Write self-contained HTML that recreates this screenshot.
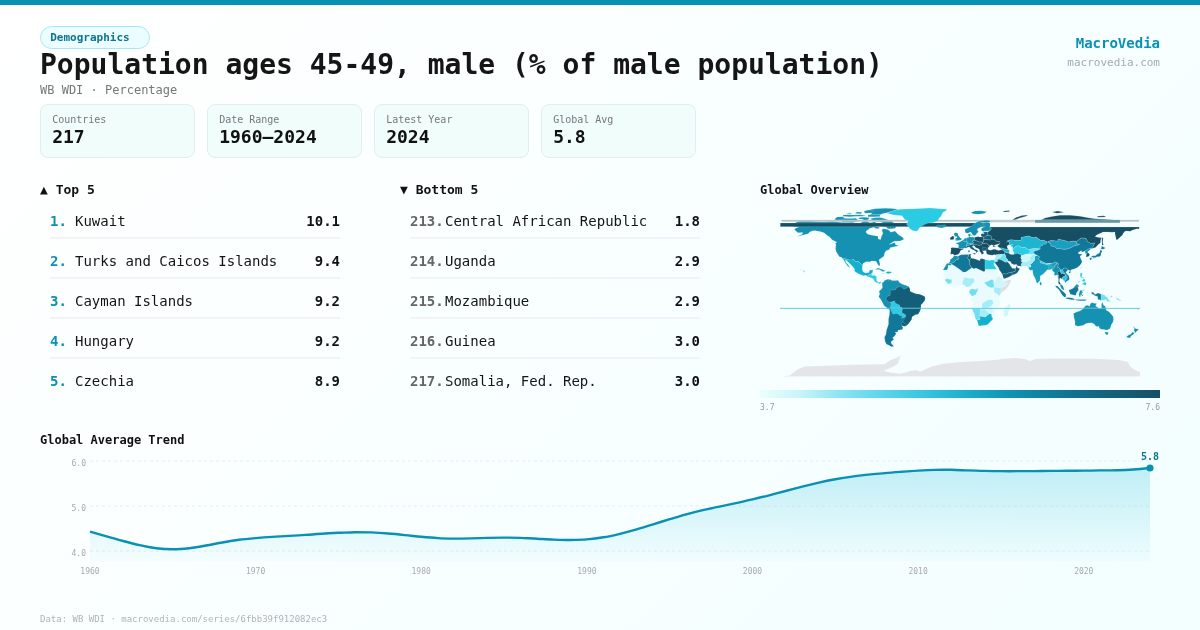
<!DOCTYPE html>
<html><head><meta charset="utf-8"><title>Population ages 45-49, male</title>
<style>
*{margin:0;padding:0;box-sizing:border-box}
html,body{width:1200px;height:630px;overflow:hidden}
body{position:relative;-webkit-font-smoothing:antialiased;font-family:"DejaVu Sans Mono","Liberation Mono",monospace;background:linear-gradient(135deg,#ffffff 0%,#f2feff 100%);color:#111}
.a{position:absolute;white-space:nowrap;line-height:1}
.topbar{position:absolute;left:0;top:0;width:1200px;height:5px;background:#0891b2}
.badge{position:absolute;left:40px;top:25.6px;width:110px;height:23px;border:1px solid #a5e9f5;background:#ecfdff;border-radius:12px;font-size:11px;font-weight:700;color:#0e7490;padding-left:9.2px;line-height:21.6px}
.title{left:40px;top:51px;font-size:28px;font-weight:700;color:#151515}
.sub{left:40px;top:84px;font-size:12px;color:#777}
.brand{right:40px;top:35.7px;font-size:14px;font-weight:700;color:#0891b2}
.site{right:40px;top:56.5px;font-size:11px;color:#aaa}
.card{position:absolute;top:104px;width:155px;height:54px;background:#f0fdfa;border:1px solid #e6ebed;border-radius:8px}
.card .l{position:absolute;left:11.2px;top:10.3px;font-size:10px;color:#777;line-height:1}
.card .v{position:absolute;left:11.2px;top:23px;font-size:18px;font-weight:700;color:#111;line-height:1}
.h{font-size:13px;font-weight:700;color:#111}
.h2{font-size:12px;font-weight:700;color:#111}
.row{position:absolute;width:290px;height:20px;font-size:14px;line-height:20px;white-space:nowrap}
.row .rk{position:absolute;left:0;top:0;font-weight:700}
.rk.t{color:#0891b2}.rk.b{color:#666}
.row .nm{position:absolute;top:0;color:#151515}
.row .vl{position:absolute;right:0;top:0;font-weight:700;color:#111}
.sep{position:absolute;width:290px;height:2px;background:#f1f3f4}
.ax{position:absolute;font-size:8px;color:#aaa;line-height:1;white-space:nowrap}
.foot{left:40px;top:615px;font-size:9px;color:#b3b3b3}
.gbar{position:absolute;left:760px;top:390px;width:400px;height:8px;background:linear-gradient(to right,#ecfeff 0%,#c8f4fa 10%,#8ce4f2 20%,#5fd6eb 30%,#3cc6e1 40%,#20b2d0 50%,#1498b9 60%,#0f82a0 70%,#126e8c 80%,#155e76 90%,#164e63 100%)}
#root{position:absolute;left:0;top:0;width:1200px;height:630px;will-change:transform}
</style></head><body><div id="root">
<div class="topbar"></div>
<div class="badge">Demographics</div>
<div class="a title">Population ages 45-49, male (% of male population)</div>
<div class="a sub">WB WDI · Percentage</div>
<div class="a brand">MacroVedia</div>
<div class="a site">macrovedia.com</div>
<div class="card" style="left:40px"><div class="l">Countries</div><div class="v">217</div></div>
<div class="card" style="left:207px"><div class="l">Date Range</div><div class="v">1960–2024</div></div>
<div class="card" style="left:374px"><div class="l">Latest Year</div><div class="v">2024</div></div>
<div class="card" style="left:541px"><div class="l">Global Avg</div><div class="v">5.8</div></div>
<div class="a h" style="left:40px;top:182.6px">▲ Top 5</div>
<div class="a h" style="left:400px;top:182.6px">▼ Bottom 5</div>
<div class="a h2" style="left:760px;top:183.8px">Global Overview</div>
<div class="row" style="left:50px;top:211px"><span class="rk t">1.</span><span class="nm" style="left:25px">Kuwait</span><span class="vl">10.1</span></div>
<div class="sep" style="left:50px;top:237.0px"></div>
<div class="row" style="left:50px;top:251px"><span class="rk t">2.</span><span class="nm" style="left:25px">Turks and Caicos Islands</span><span class="vl">9.4</span></div>
<div class="sep" style="left:50px;top:277.0px"></div>
<div class="row" style="left:50px;top:291px"><span class="rk t">3.</span><span class="nm" style="left:25px">Cayman Islands</span><span class="vl">9.2</span></div>
<div class="sep" style="left:50px;top:317.0px"></div>
<div class="row" style="left:50px;top:331px"><span class="rk t">4.</span><span class="nm" style="left:25px">Hungary</span><span class="vl">9.2</span></div>
<div class="sep" style="left:50px;top:357.0px"></div>
<div class="row" style="left:50px;top:371px"><span class="rk t">5.</span><span class="nm" style="left:25px">Czechia</span><span class="vl">8.9</span></div>
<div class="row" style="left:410px;top:211px"><span class="rk b">213.</span><span class="nm" style="left:35px">Central African Republic</span><span class="vl">1.8</span></div>
<div class="sep" style="left:410px;top:237.0px"></div>
<div class="row" style="left:410px;top:251px"><span class="rk b">214.</span><span class="nm" style="left:35px">Uganda</span><span class="vl">2.9</span></div>
<div class="sep" style="left:410px;top:277.0px"></div>
<div class="row" style="left:410px;top:291px"><span class="rk b">215.</span><span class="nm" style="left:35px">Mozambique</span><span class="vl">2.9</span></div>
<div class="sep" style="left:410px;top:317.0px"></div>
<div class="row" style="left:410px;top:331px"><span class="rk b">216.</span><span class="nm" style="left:35px">Guinea</span><span class="vl">3.0</span></div>
<div class="sep" style="left:410px;top:357.0px"></div>
<div class="row" style="left:410px;top:371px"><span class="rk b">217.</span><span class="nm" style="left:35px">Somalia, Fed. Rep.</span><span class="vl">3.0</span></div>
<svg style="position:absolute;left:760px;top:200px" width="400" height="185" viewBox="760 200 400 185"><g stroke="#ffffff" stroke-width="0.3" stroke-opacity="0.45">
<path fill="#1592b1" d="M792 225.8L795 223.3L797 221.8L804 220L810 220.9L819 221.7L825 221.8L832 221.3L840 222.3L850 223.3L860 223.3L865 220.3L870 222.8L875 221.8L878 224.8L874 227.3L870 228.3L866 231.3L866 232.6L868 234.3L872 235.3L878 236.3L878 238.8L880.5 239.8L881.5 236.3L883 233.3L882 230.8L882.5 228.8L888 229.5L891 232.3L895 231L898.5 234.8L902.5 237.3L904 239.3L900 241.1L894 241.3L889 244.5L895 242.5L895.5 244.8L899 245.8L894 246.8L890 247.8L889.5 249.5L886 250.8L884.5 253.3L884 256.3L882 257.5L879 259.8L880 264.3L879.5 266.1L878 264.8L877.3 263.3L876 261.3L873.5 260.9L870.5 261.1L870.5 262.3L869 261.8L866 261.7L863 263.5L862.5 265.4L860.5 263.8L859 261.8L857.5 261.5L855.5 261.8L853.5 259.5L851.8 260L849 260L845.2 258.8L842.9 258.8L841.5 257.3L839.4 256.7L837.5 253.8L836 251.3L835.5 248.3L836 245L835.3 242.9L837 242.3L835 241.3L832 239.8L829.5 236.8L827 235.3L824 232.8L820 231.5L814 230.5L810 231.8L808 233.8L804 234.8L800 235.8L797 236.5L802 234.3L803 232.6L798 232.8L795.5 230.8L794.5 229.3L796 228.1L799 226.9L794 226.7Z"/>
<path fill="#14b1cf" d="M862.5 265.4L862.2 269.3L863 271.8L865.5 273.1L869 272.6L869.5 270.3L873 269.8L872.5 272.8L871.7 273.5L868.5 275.3L867.7 276.8L866 275.3L863.5 275.7L859 274L854.5 271.3L854.5 268.8L852 265.8L847.7 261.6L845.2 259.5L846 262.7L848 264.3L850 268.3L848 266.5L845.5 263.3L842.9 258.8L845.2 258.8L849 260L851.8 260L853.5 259.5L855.5 261.8L857.5 261.5L859 261.8L860.5 263.8Z"/>
<path fill="#2ccbe4" d="M867.7 276.8L870 277.6L872.5 278.3L874 279.8L874.3 281.3L876 282.3L877.5 283.1L880 284L881 282.3L882.7 282.7L882.1 284.1L882.5 282.5L880.5 281.7L878.5 282.5L876.5 280.4L876.5 276.8L875 275.3L871.7 275.6L871.7 273.5L868.5 275.3Z"/>
<path fill="#1592b1" d="M875 269.5L878 268.1L883 269.8L885.8 271.1L882.5 271.4L879.5 269.5L876 269.4Z"/>
<path fill="#14b1cf" d="M885.5 272.9L887.5 271.4L891 271.8L891.7 272.8L888.5 273.7Z"/>
<path fill="#14b1cf" d="M881.7 272.9L883.7 273.1L883.2 273.5Z"/>
<path fill="#14b1cf" d="M799.8 269.1L800.7 269.1L800.6 269.5Z"/>
<path fill="#14b1cf" d="M801.7 269.7L802.4 270L803.8 270.4L804.1 271.1L805 272.1L804.1 272.3L803.9 271.5L803.3 270.5L802.7 270.2Z"/>
<path fill="#1592b1" d="M880 217.6L884 218.5L889 220.3L892 221.3L894 223.3L898 224.8L895 228.3L892 228.8L888 228.8L886 226.8L882 226.3L887 224.3L884 223.3L880 221.8L874 221.3L870 218.8L875 217.8Z"/>
<path fill="#1592b1" d="M842 218.3L850 218.5L856 218.3L859 221.3L852 222.8L842 222.3L841 220.3Z"/>
<path fill="#1592b1" d="M834.5 219.3L837 217L843 216.8L844.5 218.3L841 220.1L836 220.3Z"/>
<path fill="#1592b1" d="M858 218.8L863 219.3L864 220.8L868 219.8L869.5 217.8L865 217.3L860 217.5Z"/>
<path fill="#1592b1" d="M868 216.7L875 216.8L880 216.6L880 215L875 214.9L868 214.8Z"/>
<path fill="#1592b1" d="M870 214.7L880 214.7L883 213.5L887 212.7L892 211.3L898 209.3L892 208.5L885 208.3L875 208.8L870 209.8L868 211.3L872 213.3Z"/>
<path fill="#1592b1" d="M843 216.3L850 216.8L856 216.3L863 216.3L866 215.7L860 214.8L854 215.1L848 214.7L843 215Z"/>
<path fill="#1592b1" d="M865 213.3L872 212.8L874 210.8L868 210.1L864 211.3Z"/>
<path fill="#1592b1" d="M855 213.6L861 213.8L862 212.3L857 212Z"/>
<path fill="#1592b1" d="M846 213.8L852 213.7L850 212.8Z"/>
<path fill="#1592b1" d="M878 228.8L880 227.8L877 226.8L874 227L875 228.3Z"/>
<path fill="#164e63" d="M1040 220.5L1045 218L1052 216.5L1060 215.3L1070 215.3L1080 216.3L1088 217.8L1095 218.8L1105 219.3L1120 220.5Z"/>
<path fill="#164e63" d="M1052 212L1058 211L1064 212.3L1057 213.2Z"/>
<path fill="#1592b1" d="M971 212.5L975 211L981 210.8L987 211.8L984 213.5L978 214.3L973 213.8Z"/>
<path fill="#164e63" d="M1011 220.8L1016 217.5L1022 215.5L1028 215L1026 216.2L1019 218.2L1013 221Z"/>
<path fill="#164e63" d="M1004 211L1010 210.5L1009 211.8L1003 212Z"/>
<path fill="#164e63" d="M1097 216.3L1104 215.8L1106 217L1098 217.3Z"/>
<rect x="781.5" y="219.9" width="357.5" height="1.8" fill="#b2c2c9"/>
<rect x="990" y="219.9" width="45" height="2.5" fill="#c3cdd2"/>
<rect x="1035" y="219.9" width="85" height="3" fill="#6896a5"/>
<rect x="780.3" y="223" width="209.7" height="3.7" fill="#164e63"/>
<path fill="#2ccbe4" d="M887 213.3L893 210.8L900 209.3L915 208.7L930 208L940 208.7L947 209.3L946 210.8L943 212.3L942 214.3L941 216.3L939 218.3L938 220.8L933 222.8L928 223.1L922 225.7L920 227.3L917 231.3L912.5 230.5L910 228.8L908 226.3L906.5 224.3L908.5 220.8L905 219.8L902 215.8L894 215.1Z"/>
<path fill="#1592b1" d="M936 225.8L938 224.9L941.5 225.1L945 224.8L946.5 226.1L945.5 226.9L941.3 227.9L939 227.5L937.3 227.3Z"/>
<path fill="#12789a" d="M882.7 282.7L884 281.8L884.5 280.8L886 280.1L887.8 279.4L888.7 278.9L888.5 280.5L890 279.5L892 280.7L896 280.7L898 280.6L899.5 282.8L902 284.3L905 285.3L908 286.3L909 287.3L910 289.5L910 291.3L912 292.3L915.5 293.8L919 294.2L921.5 295.1L924.8 296.8L925.2 298.8L924.5 300.8L922.5 303.3L921 304.8L920.8 308.8L919.5 311.8L918 314.3L915.5 314.6L912 316.8L911.4 319.8L909.5 322.3L907.5 324.8L906 326.1L904 326.2L901.7 325.5L903 327.8L902.3 329.5L898 330.3L897.7 332.1L895 332.3L896.2 333.8L894.5 336.3L892.5 337.8L894 339.3L891 341.8L891.5 343.8L894 346.3L891.5 346.8L889 345.3L886.5 344.3L885 341.3L884.5 337.3L886 334.3L886.5 330.3L888.5 324.3L888.5 319.3L889.5 314.3L889.7 309.8L887.5 308.3L884 305.3L882 301.3L880.5 298.8L878.8 296.8L879.7 294.7L880 293.3L879.2 292.3L880 290.3L881.2 289.7L882.7 287.5L882.5 284.8L882.1 284.1Z"/>
<path fill="#1592b1" d="M882.7 282.7L884 281.8L884.5 280.8L886 280.1L887.8 279.4L888.7 278.9L888.5 280.5L890 279.5L892 280.7L896 280.7L898 280.6L899.5 282.8L902 284.3L905 285.3L908 286.3L908.5 287L904 289.3L900 286.3L899 287.1L896.6 287.4L895.9 289.4L893 290.1L890.6 290.2L890 290.7L890.5 292.5L890 295.6L887.1 296.5L886 298.8L886.8 300.7L887.5 300.8L889.4 302.3L890.4 302.3L891.3 304L890.6 306.8L891.2 307.6L890.5 308.8L889.7 309.8L887.5 308.3L884 305.3L882 301.3L880.5 298.8L878.8 296.8L879.7 294.7L880 293.3L879.2 292.3L880 290.3L881.2 289.7L882.7 287.5L882.5 284.8L882.1 284.1Z"/>
<path fill="#135f7a" d="M900 286.1L904 289.3L908.5 287L909 287.3L910 289.5L910 291.3L912 292.3L915.5 293.8L919 294.2L921.5 295.1L924.8 296.8L925.2 298.8L924.5 300.8L922.5 303.3L921 304.8L920.8 308.8L919.5 311.8L918 314.3L915.5 314.6L912 316.8L911.4 319.8L909.5 322.3L907.5 324.8L906.6 325L902.4 321.5L904.2 319.3L905.4 316.9L905.7 315.3L904.4 313.9L902.1 313.3L901.8 311.3L902.5 309.3L901.7 307.6L900 307.6L899.5 305.1L898.5 304.8L895 303.1L894.6 301L890.4 302.3L889.4 302.3L887.5 300.8L886.8 300.7L886 298.8L887.1 296.5L890 295.6L890.5 292.5L890 290.7L890.6 290.2L893 290.1L895.9 289.4L896.6 287.4L899 287.1Z"/>
<path fill="#2ccbe4" d="M890.4 302.3L894.6 301L895 303.1L898.5 304.8L899.5 305.1L900 307.6L901.7 307.6L902.5 309.3L901.8 311.3L897.7 313.5L895.5 313.7L892.8 314.1L891.5 311.3L891 309.8L890.5 308.8L891.2 307.6L890.6 306.8L891.3 304Z"/>
<path fill="#2ccbe4" d="M897.7 313.5L901.8 311.3L902.1 313.3L904.4 313.9L905.7 315.3L905.4 316.9L901.4 318.5L902.4 316.6L899 315.1Z"/>
<path fill="#135f7a" d="M906.6 325L902.4 321.5L901.7 324.3L901.7 325.5L904 326.2L906 326.1Z"/>
<path fill="#164e63" d="M950.5 254.3L951.1 249.3L950.7 248.2L952 247.6L958.2 247.9L960.7 248.5L963.2 248.9L963.1 249.5L960.8 250.3L960 251.8L959.5 253L958 254.6L954.6 255.3L953.7 254.5L952.6 254.1L951.1 254.3Z"/>
<path fill="#1592b1" d="M958.2 247.9L958.8 245.1L957.8 244.2L955.3 242.9L958.4 242.6L960 241.8L961.6 241.1L962.5 240.2L964.2 241.4L965.9 241.9L968.2 242.3L967.6 243.7L966 245L967 245.4L966.7 246.4L967.5 247.5L966.2 248.2L964.5 247.9L963.1 248.8L960.7 248.5Z"/>
<path fill="#1592b1" d="M954.3 241.3L957 240.7L961.4 240.1L961.7 238.6L960.2 237.9L959.5 236.8L958.4 235.7L957.9 234.3L958.2 233.7L956.5 232.7L955 232.7L953.8 233.8L954.4 235.3L955.1 236.5L956.9 236.4L957 237.9L955.4 238L955.8 239.1L954.8 239.6L956.8 239.9Z"/>
<path fill="#164e63" d="M954 239.2L953.8 237.4L954.4 236.7L952.7 236L951.5 236.8L950 237.9L950.1 239.5L952 239.7Z"/>
<path fill="#1592b1" d="M966.1 240.5L966 239.4L967 237.8L968.6 237.4L969 236.5L971 237.3L972.5 236.9L974.2 237.4L974.6 238.7L975 240.2L972.1 241L973.8 242.5L973 243.8L970.5 243.8L967.6 243.7L968.2 242.3L966.4 241.8Z"/>
<path fill="#1592b1" d="M962.5 240.2L963.4 239.8L964 239.4L964.8 238.3L967 237.8L966 239.4L966.1 240.5L966.4 241.8L965.9 241.9L964.2 241.4Z"/>
<path fill="#164e63" d="M974.2 237.4L978 236.5L979.6 236.9L983.5 237.1L983.9 238.6L983.5 239.8L984 240.9L982.7 242.2L979 241.9L975 240.2L974.6 238.7Z"/>
<path fill="#135f7a" d="M972.1 241L975 240.2L979 241.9L982.7 242.2L982.5 243.1L982.9 243.4L981 245.1L978.8 245.4L976.5 244.8L973.7 244.8L972.2 244.2L970.5 243.8L973 243.8L973.8 242.5Z"/>
<path fill="#1592b1" d="M966 245L967.6 243.7L970.5 243.8L970.4 244.8L969 245.5L967 245.4Z"/>
<path fill="#135f7a" d="M967 245.4L969 245.5L970.4 244.8L972.2 244.2L973.7 244.8L973.7 245.7L972.3 246L972.6 247.3L973.6 247.8L974.7 249.3L976.2 249.5L978.5 251.2L977 252.1L976.6 252.5L975.7 253.3L976.1 251.8L975.6 251.2L974 250.3L972.3 249.6L970.5 248.4L970 247.3L968.4 247.1L967.5 247.5L966.7 246.4Z"/>
<path fill="#135f7a" d="M972.4 253.3L975.6 253L975.1 254.6Z"/>
<path fill="#12789a" d="M968.2 252.3L969.8 252.1L969.6 250.2L968.2 250.4Z"/>
<path fill="#164e63" d="M973.7 245.7L973.7 244.8L976.5 244.8L978.8 245.4L981 245.1L982.9 243.4L984.9 243.6L986.6 243.1L988.2 244.8L988.7 246L989.7 246.3L988.6 247.3L988 248L988 249.4L986.4 251L986 250.5L984 250.5L982.6 251L984 253.1L982.8 253.9L981.7 254.5L981.1 253L980.2 251.7L979.4 251L979.5 249.4L978.5 248.8L976 247.8L975.2 247L974.5 246.1Z"/>
<path fill="#135f7a" d="M982.6 251L984 250.5L986 250.5L986.4 251L986.3 249.6L988 249.4L988 248L985 247.6L982.5 247.1L982.4 249Z"/>
<path fill="#164e63" d="M982.7 242.2L984 240.9L983.5 239.8L985 239.4L990.5 239.9L992 239L994.4 239.6L995.5 240.9L998.2 241.4L1000 241.7L1000 243.3L998.5 244.1L995 245L993.5 246L996.5 246L993.6 246.9L992.5 245.9L993.5 245.3L991.5 244.7L990 245.5L988.7 246L988.2 244.8L986.6 243.1L984.9 243.6L982.9 243.4Z"/>
<path fill="#135f7a" d="M983.5 239.8L983.9 238.6L983.5 237.1L985.5 237L986.6 235.6L988.2 235.2L990.9 235.7L991.8 238.2L992 239L990.5 239.9L985 239.4Z"/>
<path fill="#135f7a" d="M981 236L981 234.5L981.6 233.9L982.6 233.6L984.3 234L983.5 232.8L983.4 232.1L988 231.8L987.7 233.5L988.2 235.2L986.6 235.6L985.5 237L983.5 237.1L982.7 236.9Z"/>
<path fill="#1592b1" d="M965.5 232.8L967.5 233.3L970.5 232L971.8 233.3L972.7 235.1L974.3 235.8L976 235.1L976.6 233.5L978.5 232L978 230.9L977.3 230.3L977.5 228.8L979.5 227.8L981.5 226.8L982 225.7L984.2 225.5L983.7 223.4L980.6 222.2L985 222.7L988.9 222.2L990.9 221.7L989 220.4L986 220.3L983 220.7L979 221.3L976.5 222.3L974.5 223.3L972.5 225.3L970.5 226.8L968 228.1L965 229.3L965 230.8Z"/>
<path fill="#1592b1" d="M981.3 230.3L982.9 231.4L986 230.9L990 230.8L991.5 228.4L989.6 227.1L990 225.6L989 224.4L990 223.6L988.5 222.4L988.9 222.2L985 222.7L983.7 223.4L984.2 225.5L985.3 226.2L981.5 228.3Z"/>
<path fill="#1592b1" d="M968.6 236.4L968.1 234.8L968.4 234.2L970.6 233.6L970.3 234.8L970.9 234.9L969.9 236.3L969.4 236.5Z"/>
<path fill="#12789a" d="M971 236L972.6 235.7L972.3 235.3L971.5 235.4Z"/>
<path fill="#164e63" d="M989.8 227L1139.2 227L1139.2 229L1137 228.8L1132 230.3L1130.5 231.3L1126 230.9L1124.7 231.5L1123.3 233.3L1122.5 235.1L1120 237.3L1118.5 238.8L1116.5 240.3L1115.5 236.3L1115 233.8L1115 232L1112 232.3L1108 231.9L1103 232L1100.5 233.3L1097 234.8L1095 236.5L1097.5 237.3L1101.5 237.8L1100.7 239.8L1100.5 242.8L1098 244.8L1095.5 247.4L1092.8 248.3L1091 248.7L1093.2 246.2L1094.8 242.9L1091 243.6L1087.5 241.5L1086 238.5L1082 237.9L1080 238.7L1076.7 241.5L1074 241L1068.5 242L1066 241L1062 240L1058 239.3L1057.8 241.3L1052 240.5L1050 240.8L1047.3 242.1L1044 240.4L1040.5 240.3L1038 238.5L1036 237L1033.5 237.8L1031 237.1L1029 235.9L1025 236.7L1021.5 237.3L1021 240.5L1015 240.3L1011 239.7L1007.3 240.9L1010 242.8L1009 244.8L1008.7 245L1007.5 245.6L1007 246.8L1007.5 248.3L1008.5 249.5L1006.5 249.4L1004 248.7L1002 248.1L1000 247.9L998.5 247L997.5 246L998 245.3L999.5 244.3L998.5 244.1L1000 243.3L1000 241.7L998.2 241.4L995.5 240.9L994.4 239.6L992 239L991.8 238.2L990.9 235.7L988.2 235.2L987.7 233.5L988 231.8L990 230.8L991.5 228.4L989.6 227.1Z"/>
<path fill="#164e63" d="M1102 237L1103.2 238.6L1102.7 242.3L1103.5 244.8L1102 245.3L1101.9 242.5L1101.8 239.3Z"/>
<path fill="#1fb5d1" d="M1006.5 242.8L1007.3 240.9L1011 239.7L1015 240.3L1021 240.5L1021.5 237.3L1025 236.7L1029 235.9L1031 237.1L1033.5 237.8L1036 237L1038 238.5L1040.5 240.3L1044 240.4L1047.3 242.1L1045.5 244.3L1043 244.1L1042.3 245.8L1040 246.3L1040.2 249.1L1035 248.5L1031 249L1029 249.9L1026 248.3L1025.5 247.3L1022 247.8L1018.5 245.8L1016 246.3L1013 249.3L1012.5 249.5L1012.7 246.8L1011.2 246.6L1010.3 245.8L1013 244.5L1009.2 244.9L1008.7 245L1009 244.8L1010 242.8L1007.3 240.9Z"/>
<path fill="#2ccbe4" d="M1013 249.3L1016 246.3L1018.5 245.8L1022 247.8L1025.5 247.3L1026 248.3L1029 249.9L1031 249L1035 248.5L1040.2 249.1L1038 250.3L1035 250.9L1033.5 251.9L1035 253.9L1031.5 254.4L1028 254.3L1026.5 253.9L1022 255.8L1021.2 254.7L1017 253.3L1014 254L1013.5 251.8L1012.8 250.8Z"/>
<path fill="#6fdff2" d="M1029 249.9L1031 249L1035 248.5L1040.2 249.1L1038 250.3L1035 250.9L1033.5 251.9L1035 253.9L1031.5 254.4L1028 254.3L1029.5 251.8L1031 250.8Z"/>
<path fill="#1a9fc0" d="M1047.8 242.1L1050 240.8L1052 240.5L1057.8 241.3L1058 239.3L1062 240L1066 241L1068.5 242L1074 241L1076.7 241.5L1076 243.5L1079.8 244.3L1078 245.1L1074 245.9L1071.5 247.6L1067.5 248.9L1064 249.4L1060 248.7L1056.3 248.6L1055.3 247L1051 246.1L1050.6 243.7Z"/>
<path fill="#12789a" d="M1033.5 251.9L1035 250.9L1038 250.3L1040.2 249.1L1040 246.3L1042.3 245.8L1043 244.1L1045.5 244.3L1047.3 242.1L1047.8 242.1L1050.6 243.7L1051 246.1L1055.3 247L1056.3 248.6L1060 248.7L1064 249.4L1067.5 248.9L1071.5 247.6L1074 245.9L1078 245.1L1079.8 244.3L1076 243.5L1076.7 241.5L1080 238.7L1082 237.9L1086 238.5L1087.5 241.5L1091 243.6L1094.8 242.9L1093.2 246.2L1091 248.7L1090 248.4L1088 249.3L1084.5 251.3L1081.6 252.3L1081.5 250.4L1079 252.1L1078 252.8L1079 254.1L1082.5 254.3L1080 256.3L1081 259.3L1082 261.3L1081.5 263.3L1079.5 265.8L1077 267.8L1074 269L1071 269.8L1070.5 271L1068 269.8L1066.7 268.5L1065.5 268.1L1063 268.7L1061.7 270.1L1060.2 269.8L1058.7 267.3L1057.5 267.3L1058.5 263.7L1057 263L1056 261.8L1052 263.5L1049 263.3L1046 263.4L1043 262L1041 261.1L1039 259.8L1038.5 258.7L1039.5 256.8L1037.8 255.8L1035.5 254.5L1034.5 254.1Z"/>
<path fill="#12789a" d="M1068.6 272.1L1070 271.2L1071 271.7L1070.2 273.1L1069 272.9Z"/>
<path fill="#1592b1" d="M1084.5 251.3L1088 249.3L1090 248.4L1090.7 249L1089.7 250.3L1087.5 251.8L1088.3 252.7L1086.5 253.6L1085 253.5L1085.3 251.8Z"/>
<path fill="#164e63" d="M1086.1 256.9L1086.5 253.6L1088.3 252.7L1089.4 254.3L1089.3 256L1087.5 256.7Z"/>
<path fill="#12789a" d="M1090.9 257L1092.5 255.8L1095.5 255.7L1097 254.3L1099.5 253.1L1100 251.3L1100.5 249.9L1101.5 250L1102 251.8L1101 253.3L1100.8 255.6L1099.8 256.4L1098.5 256.7L1097 256.7L1095.2 257.8L1093 257.1Z"/>
<path fill="#12789a" d="M1089.6 258.1L1091 257.4L1091.9 258.3L1091 260L1090.2 260.1Z"/>
<path fill="#12789a" d="M1092.5 257.4L1094.7 257.1L1094.3 258L1092.9 258.5Z"/>
<path fill="#12789a" d="M1100 249.8L1101.3 248.1L1101.7 245.9L1105.5 248L1103.3 249.3L1101.3 248.9Z"/>
<path fill="#d9dde1" d="M1080.1 268.3L1081.5 266L1081.9 266.8L1080.8 269.3Z"/>
<path fill="#1a9fc0" d="M1037.8 255.8L1039.5 256.8L1038.5 258.7L1039 259.8L1041 261.1L1040 262.6L1044 263.8L1048 264.8L1048.2 263.4L1049 264.5L1052 263.5L1056 261.8L1057 263L1056.5 264.3L1055 265.3L1054.5 267.3L1053.3 268.3L1052.5 269.5L1051.8 268.9L1050 269.5L1048.5 269.7L1047 269.8L1046 271.3L1044.5 272.8L1042.3 274.7L1040.3 275.8L1040.2 278.3L1039.8 281L1038.2 282.4L1037.5 283.3L1036.5 282.4L1035.7 279.8L1034.6 277.3L1033.4 275.3L1032.8 272.3L1032.6 269.9L1030.5 270.5L1029 268.9L1028.2 267.7L1029.6 267L1031 266.9L1030.4 264.6L1029.5 264.3L1031.9 263.3L1033.5 261.3L1034.5 260.3L1034.8 258.8L1034.3 256.8L1035.8 255.7Z"/>
<path fill="#1592b1" d="M1039.8 283.3L1040.2 281.5L1041.8 283.8L1041.3 285.1L1040.1 285.2Z"/>
<path fill="#14b1cf" d="M1048.2 264.8L1049 264.5L1052.4 266.3L1052.5 269.5L1051.8 268.9L1050 269.5L1048.8 269.4L1048.5 267.3Z"/>
<path fill="#2ccbe4" d="M1040 262.6L1044 263.8L1048.2 264.8L1048.2 263.4L1046 263.4L1043 262L1041 261.1Z"/>
<path fill="#a5eef8" d="M1021.5 266.2L1026.7 265.9L1027.5 267.4L1028.2 267.7L1029.6 267L1031 266.9L1030.4 264.6L1029.5 264.3L1031.9 263.3L1033.5 261.3L1034.5 260.3L1034.8 258.8L1034.3 256.8L1035.8 255.7L1034.5 254.2L1031.5 254.8L1031 256.6L1029.3 257.3L1030 259.8L1026.5 261.4L1022.5 261.9L1021 264.3Z"/>
<path fill="#cff6fb" d="M1021.2 255.7L1022 255.8L1026.5 253.9L1028 254.3L1031.5 254.4L1034.5 254.2L1031.5 254.8L1031 256.6L1029.3 257.3L1030 259.8L1026.5 261.4L1022.5 261.9L1020.9 261.5L1021.7 259.9L1020.6 257.8L1021 256.8Z"/>
<path fill="#135f7a" d="M1004 251.9L1008 252.8L1009 253.3L1009.5 253.8L1011 254.5L1014 254.4L1014 254L1017 253.3L1021.2 254.7L1021 256.8L1020.6 257.8L1021.7 259.9L1020.9 261.5L1022.5 261.9L1021 264.3L1021.5 266.2L1017.3 265.7L1016.5 264.2L1014 264.7L1011.5 263.5L1010.2 261.3L1008.6 261.3L1008 260.8L1007.6 259.8L1005.9 257.8L1005.4 255.5L1004.8 254.1L1004.3 253.3Z"/>
<path fill="#6fdff2" d="M998.8 257.9L1001 256.9L1002.3 254.1L1004.8 254.1L1005.4 255.5L1005.9 257.8L1007.6 259.8L1008 260.8L1007.7 261.9L1006.5 262.2L1004.7 262.1L1002 260.2L999 259.3Z"/>
<path fill="#a5eef8" d="M995.7 254.7L996.5 254.5L1002.3 254.1L1001 256.9L998.8 257.9L999 259.3L997 259.8L998 261.3L995 261.8L994.2 260.1L995.1 258.3L995.9 256.3Z"/>
<path fill="#135f7a" d="M994.9 261.8L996.5 261.8L998 261.3L997 259.8L999 259.3L1002 260.2L1004.7 262.1L1006.5 262.2L1007.7 261.9L1008.4 262.8L1009.6 264.3L1010.2 265.3L1011 266.8L1011.6 267L1012 268.3L1015.5 268.6L1015.2 271.3L1012 272.3L1009 272.7L1006.5 274L1003.3 273.8L1002.7 274.9L1001.2 272.6L999.2 269.8L998.5 267.5L996.7 265.3L995.2 263.3Z"/>
<path fill="#135f7a" d="M1015.5 268.6L1016.3 266.4L1016.4 264.9L1017.2 267.4L1019.8 268.8L1018.5 270.9L1017.8 272.3L1016.3 273.4L1015.2 274L1012 275.3L1012 272.3L1015.2 271.3Z"/>
<path fill="#135f7a" d="M1012 272.3L1012 275.3L1009 277.1L1005 278.5L1003.5 278.6L1002.7 275.6L1002.7 274.9L1003.3 273.8L1006.5 274L1009 272.7Z"/>
<path fill="#164e63" d="M986 250.7L986.5 249.6L988 249.3L989 250.1L991 250.2L993.5 249.3L995.2 249.3L998.3 250.4L1001.5 249.8L1003.5 250.2L1004.8 251.6L1004.3 253.3L1004.8 254.1L1002.3 254.1L996.5 254.5L995.7 254.7L996.1 255.5L994.5 254.5L992.5 255.2L990.5 254.9L989 254.7L987.3 254.3L986.3 253.1L986.5 251.8Z"/>
<path fill="#14b1cf" d="M1000 247.9L1002 248.1L1004 248.7L1006.5 249.4L1008.5 249.5L1009.5 251L1008.9 252.9L1008 252.8L1004.8 251.6L1003.5 250.2L1001.5 249.8Z"/>
<path fill="#1592b1" d="M1052.2 270.1L1053.3 268.3L1054.5 267.3L1055.1 265.3L1056.5 264.3L1057.5 263L1058.5 263.7L1057.5 267.3L1058.7 267.3L1060.2 269.8L1061.1 269.6L1060 270.9L1058.2 271.6L1057.5 272.8L1058.5 275L1059 277.8L1058.5 280.8L1057.8 277.3L1057.6 274.8L1055.3 275.5L1054.2 275.3L1054.5 272.3L1053.5 271.8L1052.3 270.6Z"/>
<path fill="#164e63" d="M1057.5 272.8L1058.2 271.6L1060 270.9L1060.5 271.8L1061.3 273.5L1062.5 273.3L1064.7 273.8L1065.5 275.8L1062.8 277.1L1062.5 279.1L1061 278.6L1060 277.8L1059.3 280.3L1059.5 281.8L1060.3 283.3L1061 284.5L1060.1 284.8L1058.3 283.3L1058.5 280.8L1059 277.8L1058.5 275Z"/>
<path fill="#2ccbe4" d="M1061.7 270.1L1063 268.7L1065.5 268.1L1066.7 268.5L1068 269.8L1066.5 271.3L1065.7 272.5L1067 274.3L1068.8 276.1L1069.3 278.8L1069 280L1066.8 280.9L1065 282.7L1064.8 281L1063 280.3L1062.5 279.1L1062.8 277.1L1065.5 275.8L1064.7 273.8L1062.5 273.3L1061.3 273.5L1060.5 271.8L1060 270.9L1061.1 269.6Z"/>
<path fill="#12789a" d="M1063 268.7L1065.5 268.1L1066.7 268.5L1068 269.8L1066.5 271.3L1065.7 272.5L1067 274.3L1068.8 276.1L1069.3 278.8L1069 280L1066.8 280.9L1065 282.7L1064.8 281L1066.5 279.8L1067.5 277.3L1066.5 275.3L1064.5 272.8L1063.5 271.3L1062.5 269.8Z"/>
<path fill="#1592b1" d="M1060.1 284.8L1061 284.5L1062.2 285.1L1063.4 287L1064.3 289.9L1063.5 290L1061.3 288.4L1060.4 286.4Z"/>
<path fill="#12789a" d="M1055.3 285.7L1057.5 286.1L1060.5 289.2L1064 292.3L1066 294.4L1065.8 297.1L1064.5 297.2L1062.3 295.3L1060.6 292.5L1058.8 289.5L1056 287.3Z"/>
<path fill="#12789a" d="M1065.2 298.1L1068 297.5L1071 297.7L1072.6 298.2L1074.4 299.1L1074.5 300L1070 299.4L1066.5 298.7Z"/>
<path fill="#12789a" d="M1075 299.5L1079 299.5L1082 299.6L1085 299.6L1087 299.7L1085 300.8L1080 300.8L1076 300.3Z"/>
<path fill="#12789a" d="M1069 289.8L1070.5 289.6L1073 288.2L1075.5 285.8L1076.8 284.3L1079 286L1078 286.9L1078.5 290.3L1077.5 291.2L1076.5 292.8L1076 295.3L1074.5 295.2L1071.7 294.4L1070.2 294.2L1069.6 292.3L1068.9 291Z"/>
<path fill="#1592b1" d="M1073 288.2L1075.5 285.8L1076.8 284.3L1079 286L1078 286.9L1077.5 287.1L1075.5 286.8L1074.5 287Z"/>
<path fill="#1592b1" d="M1078.8 294.2L1079.4 296.8L1080.4 296.8L1080.8 294.3L1082.3 296L1083.2 295.9L1081.5 292.9L1083.3 292.3L1081 290.6L1084.3 290.3L1084.9 289.8L1080.8 290L1079.8 291.1L1079.5 292.2Z"/>
<path fill="#12789a" d="M1091 292.8L1093 292L1095 294.6L1098 293L1101 293.9L1101 300.4L1099.5 299.4L1098 299.7L1097.6 296.5L1095 295.7L1093.7 294.8L1092 294.1L1091.2 292.9Z"/>
<path fill="#6fdff2" d="M1101 293.9L1104.5 295.1L1105.8 296.8L1107.6 297.4L1108 299.3L1110.8 301.6L1107.5 301.6L1106 299.4L1103.3 300.3L1101 300.4Z"/>
<path fill="#6fdff2" d="M1110 296.8L1112 295.5L1112.5 296.8L1111 297.5Z"/>
<path fill="#2ccbe4" d="M1080.6 272.8L1082.3 272.9L1082 275.3L1081.7 277.1L1084 277.8L1083.3 278.5L1080.6 277.3L1080 275.3Z"/>
<path fill="#2ccbe4" d="M1082 284.3L1083.5 282.8L1085 281.7L1086.5 283.8L1085.5 285.5L1084 284.8Z"/>
<path fill="#2ccbe4" d="M1082 280.3L1084 278.8L1085.5 280.3L1084 281.8L1082.5 281.5Z"/>
<path fill="#2ccbe4" d="M1078 282.3L1079.5 280.8L1079.8 281.3L1078.5 282.8Z"/>
<path fill="#1592b1" d="M1073.5 313.3L1074 317.8L1075 321.3L1075 325.3L1078 326.3L1083.5 325.2L1086 323.6L1089 323L1091.5 322.8L1094.2 324L1095.6 326.1L1097.7 326.8L1098.5 325.8L1099.6 328.3L1101 329.3L1104.5 329.6L1106.3 330.3L1110 328.8L1111.3 324.8L1113.1 321.8L1113.5 319.3L1113 316.3L1110.8 313.8L1109 311.8L1106.3 310.3L1105.3 306.3L1103.5 305.3L1102.5 302L1101.5 304.3L1101.5 307.8L1100 309L1097.5 307.3L1095.5 306.1L1096.7 303.5L1094 303.2L1092 302.5L1090.5 303.8L1089.5 306.2L1087.5 305.3L1085.5 305.8L1083.5 308.3L1082 309.8L1079 311.3L1076.5 312L1074.5 313.1Z"/>
<path fill="#1592b1" d="M1104.6 332L1108.3 332.2L1108 334.5L1106.8 334.9L1105.2 333.5Z"/>
<path fill="#1592b1" d="M1132.7 325.7L1134.5 327.6L1135.9 328.8L1138.5 329L1137.9 330.5L1136.9 330.9L1135.3 332.9L1134.6 332.6L1134.6 331.2L1133.8 330.5L1134.6 328.5Z"/>
<path fill="#1592b1" d="M1132.6 331.8L1134.3 333L1133.3 334.5L1132.7 335.1L1131.2 335.8L1130.5 337.2L1129.3 337.9L1126.5 337.3L1126.7 336.4L1128.3 335.3L1130.5 334.3L1132 332.8Z"/>
<path fill="#2ccbe4" d="M1137 308.8L1138.5 308.6L1138.6 309.5L1137.3 309.5Z"/>
<path fill="#6fdff2" d="M1125 312.3L1127 313.6L1126.5 313.6L1124.2 311.6Z"/>
<path fill="#6fdff2" d="M1115.5 297.8L1117 299.3L1120 300.8L1121.5 301.3L1120 299.8L1117.5 298.3Z"/>
<path fill="#e9fbfd" d="M954.1 255.5L958 256.2L961 254.8L965 254.5L970.3 254.1L971 254.5L970.5 255.8L971.2 258.1L975.3 259L979.9 260.8L980.1 259.2L981.5 258.5L985 259.4L989 260.4L992.3 260.1L994.2 260.1L994.9 261.8L994.5 263.3L993.5 263.8L995.5 267.5L997.2 270.3L998.5 273.3L999.5 275.8L1002.5 278.8L1003.3 279.5L1004.5 280.9L1011.2 279.5L1011 280.8L1010 283.3L1008 286.8L1006 289.3L1002 292.3L1000 294.3L999.2 296.3L999.3 299.3L1000.5 301.8L1000.5 306.3L997 308.8L995 311.3L995.5 314.8L992.8 317.3L992.5 319.8L991 321.1L988 324.3L985.5 325.3L982 325.5L980 326.1L978.4 325.3L978 323.3L977 320.3L975.2 318.3L974.5 314.3L973.4 312.1L971.8 308.6L971.8 307.1L972.5 304.8L973.7 302L973 299.8L972.2 297.3L972 296.3L969.3 292.8L969.5 290.3L969.8 288.2L968.8 286.8L965.9 287L964.5 285L962 285L959 286.2L956 286.1L952.5 286.9L950.5 285.8L948.5 284.4L946.8 282.4L945 280.4L943.3 278.8L942.5 276.6L943.5 275.3L943.7 271.8L943 270L945 266.8L946.5 264L950 261.9L950.2 259.8L953.2 257.3Z"/>
<path fill="#1592b1" d="M954.1 255.5L958 256.2L958.3 258.3L958.8 259.2L956.4 259.7L954.5 261.8L951.3 263.3L951.3 263.6L946.8 263.6L948.5 263L950.2 261.4L950.2 259.8L953.2 257.3Z"/>
<path fill="#1592b1" d="M951.3 263.6L951.3 265.3L948 265.3L948 267.8L947 270L943 270L945 266.8L946.8 263.6Z"/>
<path fill="#12789a" d="M958 256.2L961 254.8L965 254.5L968.6 254.4L968.3 256.7L967.5 257.5L969.5 261.3L969.8 264.8L971.9 267.8L965.8 271.9L964.2 272.1L963.2 272.3L961.2 270.6L955.2 266.3L951.3 264L951.3 263.3L954.5 261.8L956.4 259.7L958.8 259.2L958.3 258.3Z"/>
<path fill="#135f7a" d="M968.6 254.4L970.3 254.1L971 254.5L970.5 255.8L971.2 258.1L970 259.3L969.5 261.3L967.5 257.5L968.3 256.7Z"/>
<path fill="#135f7a" d="M971.2 258.1L975.3 259L979.9 260.8L980.1 259.2L981.5 258.5L985 259.4L985 269.3L985 271.3L984 271.3L984 271.8L975.9 267.9L974.1 268.8L971.9 267.8L969.8 264.8L969.5 261.3L970 259.3Z"/>
<path fill="#2ccbe4" d="M985 259.4L989 260.4L992.3 260.1L994.2 260.1L994.9 261.8L994.5 263.3L993.5 263.8L995.5 267.5L996.9 269.3L985 269.3Z"/>
<path fill="#14b1cf" d="M976.5 319.9L977 320.3L978 323.3L978.4 325.3L980 326.1L982 325.5L985.5 325.3L988 324.3L991 321.1L992.5 319.8L992.9 318.1L991.9 317.2L991.3 313.7L989.4 313.4L987.5 315.1L985.7 316.8L983 316.6L980 316.1L980 319.7Z"/>
<path fill="#6fdff2" d="M971.8 308.6L973.4 312.1L974.5 314.3L975.2 318.3L976.5 319.9L980 319.7L980 316.1L980 313.3L981 309.3L983.5 309.2L985.3 308.9L983.5 308.8L980.8 309.3L978.5 308.7L974 308.7Z"/>
<path fill="#a5eef8" d="M980 313.3L980 316.1L983 316.6L985.7 316.8L987.5 315.1L989.4 313.4L987.5 311.8L985.3 309.1L983.5 309.2L981 309.3Z"/>
<path fill="#cff6fb" d="M985.3 309.1L987.5 311.8L989.4 313.4L991.3 313.7L992.9 311.3L992.8 307.8L990.5 306.9L988.5 307.8L986 309.1Z"/>
<path fill="#a5eef8" d="M962.7 285L962.7 281.8L963.6 279.6L964 277.8L966 277.6L969 278.5L972.5 278.1L974 278.8L974.5 281.3L972 284.3L969.8 286.5L968.5 286.8L965.9 287L964.5 285Z"/>
<path fill="#6fdff2" d="M945 280.4L946.3 281.8L948.5 284.4L949.7 283L952 283.5L951.4 281.8L951.8 279.8L949.3 279.3L946.3 278.6Z"/>
<path fill="#6fdff2" d="M969.3 292.8L969.5 290.3L971.3 289.1L973.2 289.1L976 289.5L978 287.8L977.5 291.3L976.5 292.8L975.5 294.8L972 296.3Z"/>
<path fill="#6fdff2" d="M984.2 282.6L987.5 286.3L991 287.7L993.5 287.5L995.3 285.9L993.2 282.9L993.9 281.3L992 279.3L987 281.7Z"/>
<path fill="#a5eef8" d="M994 286.7L996 286.9L998.5 287.7L1001 287.3L1001 293L999.5 296L997.5 294.3L994 292.3Z"/>
<path fill="#e2dfe4" d="M1001 287.3L1002 287.3L1003.5 286.6L1005 286.3L1006.8 284.5L1007.9 283.3L1004 282.3L1003.3 280.3L1004.5 280.9L1011.2 279.5L1011 280.8L1010 283.3L1008 286.8L1006 289.3L1002 292.3L1001 293Z"/>
<path fill="#a5eef8" d="M982 304.3L984 302.3L988 299.8L990.8 299.6L993 300.8L993.3 303.8L990.5 306.5L988.5 307.8L986 309.1L983.3 308.8L982 307.3Z"/>
<path fill="#cff6fb" d="M1009.3 303.3L1010.5 306.8L1009.5 308.3L1007.5 315.8L1005 316.8L1003.6 314.8L1004 311.3L1004.5 307.5L1007 306.6Z"/>
<path fill="#cff6fb" d="M993.5 287.5L995.3 285.9L994 286.7L994 283.3L996 278.8L998 276.8L1000 276.8L1002.5 278.8L1003.3 279.5L1002 280.3L1003.3 280.3L1004 282.3L1007.9 283.3L1006.8 284.5L1005 286.3L1003.5 286.6L1002 287.3L1001 287.3L998.5 287.7L996 286.9Z"/>
<path fill="#e3e5e8" d="M780 376.5L790 375.5L797 369.5L805 366.5L830 365.5L860 364.5L880 364.3L885 364L888 361.5L892 359.5L896 358L899 356.5L902 355L900 357.5L899 360.5L898 363.5L894 366.5L888 369L884 371L890 372.5L900 373.5L905 372.5L910 371L916 370L920 371.5L924 370L928 368L933 366L940 364.5L945 363.5L960 362L980 361L995 360L1005 358.5L1015 358L1025 359L1030 361L1035 359L1050 358.5L1080 358.5L1100 359L1120 360L1128 362L1130 366L1133 369L1140 372L1140 376.5Z"/>
<rect x="780" y="307.9" width="360" height="0.8" fill="#2bb6d3"/>
</g></svg>
<div class="gbar"></div>
<div class="ax" style="left:760px;top:403.5px;font-size:8px;color:#999">3.7</div>
<div class="ax" style="right:40px;top:403.5px;font-size:8px;color:#999">7.6</div>
<div class="a h2" style="left:40px;top:434.4px">Global Average Trend</div>
<svg style="position:absolute;left:0;top:0" width="1200" height="630" viewBox="0 0 1200 630">
<defs><linearGradient id="ag" x1="0" y1="0" x2="0" y2="1"><stop offset="0" stop-color="#06b6d4" stop-opacity="0.22"/><stop offset="1" stop-color="#06b6d4" stop-opacity="0.02"/></linearGradient></defs>
<line x1="90" y1="461" x2="1150" y2="461" stroke="#e9ecee" stroke-width="1" stroke-dasharray="3 3"/>
<line x1="90" y1="506" x2="1150" y2="506" stroke="#e9ecee" stroke-width="1" stroke-dasharray="3 3"/>
<line x1="90" y1="551" x2="1150" y2="551" stroke="#e9ecee" stroke-width="1" stroke-dasharray="3 3"/>
<path d="M90 531.6C92.8 532.4 101.1 534.7 106.6 536.3C112.1 537.8 117.6 539.5 123.1 541.0C128.6 542.5 134.2 544.0 139.7 545.2C145.2 546.5 150.7 547.6 156.2 548.2C161.7 548.9 167.3 549.3 172.8 549.3C178.3 549.3 183.9 548.8 189.4 548.2C194.9 547.5 200.4 546.5 205.9 545.5C211.4 544.6 217.0 543.4 222.5 542.5C228.0 541.5 233.6 540.6 239.1 539.8C244.6 539.1 250.1 538.6 255.6 538.1C261.1 537.6 266.7 537.2 272.2 536.9C277.7 536.5 283.3 536.3 288.8 535.9C294.3 535.6 299.8 535.3 305.3 534.9C310.8 534.6 316.4 534.2 321.9 533.8C327.4 533.4 332.9 533.1 338.4 532.8C343.9 532.6 349.5 532.3 355.0 532.2C360.5 532.2 366.1 532.2 371.6 532.4C377.1 532.6 382.6 533.0 388.1 533.5C393.6 533.9 399.2 534.5 404.7 535.1C410.2 535.6 415.7 536.3 421.2 536.8C426.7 537.3 432.3 537.8 437.8 538.1C443.3 538.4 448.9 538.5 454.4 538.6C459.9 538.6 465.4 538.5 470.9 538.4C476.4 538.2 482.0 538.0 487.5 537.9C493.0 537.7 498.6 537.6 504.1 537.6C509.6 537.6 515.1 537.7 520.6 537.9C526.1 538.1 531.7 538.5 537.2 538.7C542.7 539.0 548.3 539.4 553.8 539.6C559.3 539.8 564.8 540.0 570.3 540.0C575.8 539.9 581.4 539.8 586.9 539.4C592.4 539.0 597.9 538.3 603.4 537.3C608.9 536.4 614.5 535.1 620.0 533.8C625.5 532.4 631.1 530.9 636.6 529.3C642.1 527.7 647.6 526.0 653.1 524.3C658.6 522.6 664.2 520.9 669.7 519.2C675.2 517.6 680.7 515.9 686.2 514.4C691.7 512.9 697.3 511.5 702.8 510.2C708.3 508.9 713.9 507.7 719.4 506.6C724.9 505.4 730.4 504.3 735.9 503.1C741.4 501.9 747.0 500.7 752.5 499.4C758.0 498.1 763.6 496.7 769.1 495.3C774.6 493.9 780.1 492.4 785.6 491.0C791.1 489.5 796.7 488.0 802.2 486.6C807.7 485.3 813.3 483.9 818.8 482.6C824.3 481.4 829.8 480.3 835.3 479.3C840.8 478.3 846.4 477.4 851.9 476.6C857.4 475.9 862.9 475.2 868.4 474.6C873.9 474.0 879.5 473.6 885.0 473.1C890.5 472.6 896.1 472.2 901.6 471.8C907.1 471.4 912.6 470.9 918.1 470.6C923.6 470.3 929.2 470.0 934.7 469.9C940.2 469.7 945.7 469.8 951.2 469.8C956.7 469.9 962.3 470.2 967.8 470.4C973.3 470.5 978.9 470.8 984.4 470.9C989.9 471.0 995.4 471.1 1000.9 471.1C1006.4 471.2 1012.0 471.2 1017.5 471.1C1023.0 471.1 1028.6 471.1 1034.1 471.1C1039.6 471.0 1045.1 471.0 1050.6 470.9C1056.1 470.9 1061.7 470.8 1067.2 470.8C1072.7 470.7 1078.3 470.7 1083.8 470.6C1089.3 470.6 1094.8 470.5 1100.3 470.4C1105.8 470.4 1111.4 470.4 1116.9 470.2C1122.4 470.1 1127.9 469.9 1133.4 469.5C1138.9 469.2 1147.2 468.3 1150.0 468.0L1150 561.5L90 561.5Z" fill="url(#ag)"/>
<path d="M90 531.6C92.8 532.4 101.1 534.7 106.6 536.3C112.1 537.8 117.6 539.5 123.1 541.0C128.6 542.5 134.2 544.0 139.7 545.2C145.2 546.5 150.7 547.6 156.2 548.2C161.7 548.9 167.3 549.3 172.8 549.3C178.3 549.3 183.9 548.8 189.4 548.2C194.9 547.5 200.4 546.5 205.9 545.5C211.4 544.6 217.0 543.4 222.5 542.5C228.0 541.5 233.6 540.6 239.1 539.8C244.6 539.1 250.1 538.6 255.6 538.1C261.1 537.6 266.7 537.2 272.2 536.9C277.7 536.5 283.3 536.3 288.8 535.9C294.3 535.6 299.8 535.3 305.3 534.9C310.8 534.6 316.4 534.2 321.9 533.8C327.4 533.4 332.9 533.1 338.4 532.8C343.9 532.6 349.5 532.3 355.0 532.2C360.5 532.2 366.1 532.2 371.6 532.4C377.1 532.6 382.6 533.0 388.1 533.5C393.6 533.9 399.2 534.5 404.7 535.1C410.2 535.6 415.7 536.3 421.2 536.8C426.7 537.3 432.3 537.8 437.8 538.1C443.3 538.4 448.9 538.5 454.4 538.6C459.9 538.6 465.4 538.5 470.9 538.4C476.4 538.2 482.0 538.0 487.5 537.9C493.0 537.7 498.6 537.6 504.1 537.6C509.6 537.6 515.1 537.7 520.6 537.9C526.1 538.1 531.7 538.5 537.2 538.7C542.7 539.0 548.3 539.4 553.8 539.6C559.3 539.8 564.8 540.0 570.3 540.0C575.8 539.9 581.4 539.8 586.9 539.4C592.4 539.0 597.9 538.3 603.4 537.3C608.9 536.4 614.5 535.1 620.0 533.8C625.5 532.4 631.1 530.9 636.6 529.3C642.1 527.7 647.6 526.0 653.1 524.3C658.6 522.6 664.2 520.9 669.7 519.2C675.2 517.6 680.7 515.9 686.2 514.4C691.7 512.9 697.3 511.5 702.8 510.2C708.3 508.9 713.9 507.7 719.4 506.6C724.9 505.4 730.4 504.3 735.9 503.1C741.4 501.9 747.0 500.7 752.5 499.4C758.0 498.1 763.6 496.7 769.1 495.3C774.6 493.9 780.1 492.4 785.6 491.0C791.1 489.5 796.7 488.0 802.2 486.6C807.7 485.3 813.3 483.9 818.8 482.6C824.3 481.4 829.8 480.3 835.3 479.3C840.8 478.3 846.4 477.4 851.9 476.6C857.4 475.9 862.9 475.2 868.4 474.6C873.9 474.0 879.5 473.6 885.0 473.1C890.5 472.6 896.1 472.2 901.6 471.8C907.1 471.4 912.6 470.9 918.1 470.6C923.6 470.3 929.2 470.0 934.7 469.9C940.2 469.7 945.7 469.8 951.2 469.8C956.7 469.9 962.3 470.2 967.8 470.4C973.3 470.5 978.9 470.8 984.4 470.9C989.9 471.0 995.4 471.1 1000.9 471.1C1006.4 471.2 1012.0 471.2 1017.5 471.1C1023.0 471.1 1028.6 471.1 1034.1 471.1C1039.6 471.0 1045.1 471.0 1050.6 470.9C1056.1 470.9 1061.7 470.8 1067.2 470.8C1072.7 470.7 1078.3 470.7 1083.8 470.6C1089.3 470.6 1094.8 470.5 1100.3 470.4C1105.8 470.4 1111.4 470.4 1116.9 470.2C1122.4 470.1 1127.9 469.9 1133.4 469.5C1138.9 469.2 1147.2 468.3 1150.0 468.0" fill="none" stroke="#0891b2" stroke-width="2.4" stroke-linecap="butt" stroke-linejoin="round"/>
<circle cx="1150" cy="468" r="3.6" fill="#0891b2"/>
</svg>
<div class="ax" style="right:1114px;top:459.6px;font-size:8px">6.0</div>
<div class="ax" style="right:1114px;top:504.6px;font-size:8px">5.0</div>
<div class="ax" style="right:1114px;top:549.6px;font-size:8px">4.0</div>
<div class="ax" style="left:90.0px;top:568.2px;width:40px;margin-left:-20px;text-align:center">1960</div>
<div class="ax" style="left:255.6px;top:568.2px;width:40px;margin-left:-20px;text-align:center">1970</div>
<div class="ax" style="left:421.2px;top:568.2px;width:40px;margin-left:-20px;text-align:center">1980</div>
<div class="ax" style="left:586.9px;top:568.2px;width:40px;margin-left:-20px;text-align:center">1990</div>
<div class="ax" style="left:752.5px;top:568.2px;width:40px;margin-left:-20px;text-align:center">2000</div>
<div class="ax" style="left:918.1px;top:568.2px;width:40px;margin-left:-20px;text-align:center">2010</div>
<div class="ax" style="left:1083.8px;top:568.2px;width:40px;margin-left:-20px;text-align:center">2020</div>
<div class="a" style="left:1141px;top:452px;font-size:10px;font-weight:700;color:#0e7490">5.8</div>
<div class="a foot">Data: WB WDI · macrovedia.com/series/6fbb39f912082ec3</div>
</div></body></html>
